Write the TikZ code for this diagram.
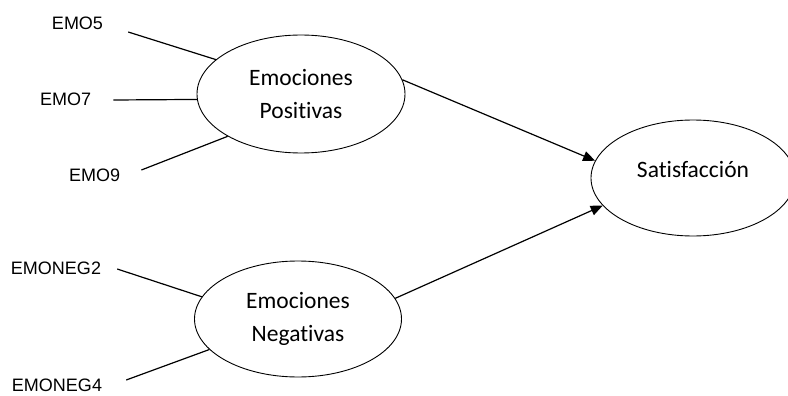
\documentclass[tikz,border=0pt]{standalone}
\usepackage{fontspec}
\newfontfamily\arialfont{Liberation Sans}
\newfontfamily\calibrifont[Ligatures=NoCommon]{Carlito}
\usetikzlibrary{arrows.meta,shapes.geometric}
\tikzset{
  ind/.style={font=\arialfont\fontsize{18}{20}\selectfont, inner sep=0pt},
  latent/.style={ellipse, draw, line width=0.9pt, inner sep=0pt, align=center,
    font=\calibrifont\fontsize{23.5}{33}\selectfont},
  load/.style={line width=1.2pt},
  effect/.style={line width=1.2pt, -{Triangle[length=12pt,width=10pt]}}
}
\begin{document}
\begin{tikzpicture}[x=1pt,y=-1pt]
  \useasboundingbox (0,0) rectangle (788,396);
  % constructs
  \node[latent, minimum width=208pt, minimum height=118pt] (pos) at (301,94) {Emociones\\Positivas};
  \node[latent, minimum width=207pt, minimum height=116pt] (neg) at (298,319) {Emociones\\Negativas};
  \node[latent, minimum width=204pt, minimum height=116pt, text depth=18pt] (sat) at (693,178) {Satisfacci\'on};
  % indicators
  \foreach \n/\t/\p in {emo5/EMO5/{77.5,23.5}, emo7/EMO7/{65.7,99.5}, emo9/EMO9/{94.7,175},
      emoneg2/EMONEG2/{56,268}, emoneg4/EMONEG4/{57,385.5}}
    { \node[ind] (\n) at (\p) {\t}; }
  \foreach \n/\s/\c/\a in {emo5/{25,8.5}/pos/158, emo7/{22,0.5}/pos/183, emo9/{21,-5}/pos/210,
      emoneg2/{16,1}/neg/167, emoneg4/{24,-5.5}/neg/199}
    { \draw[load] ([shift={(\s)}]\n.east) -- (\c.\a); }
  % paths
  \draw[effect] (pos.8) -- (sat.170);
  \draw[effect] (neg.12) -- (sat.197);
\end{tikzpicture}
\end{document}
